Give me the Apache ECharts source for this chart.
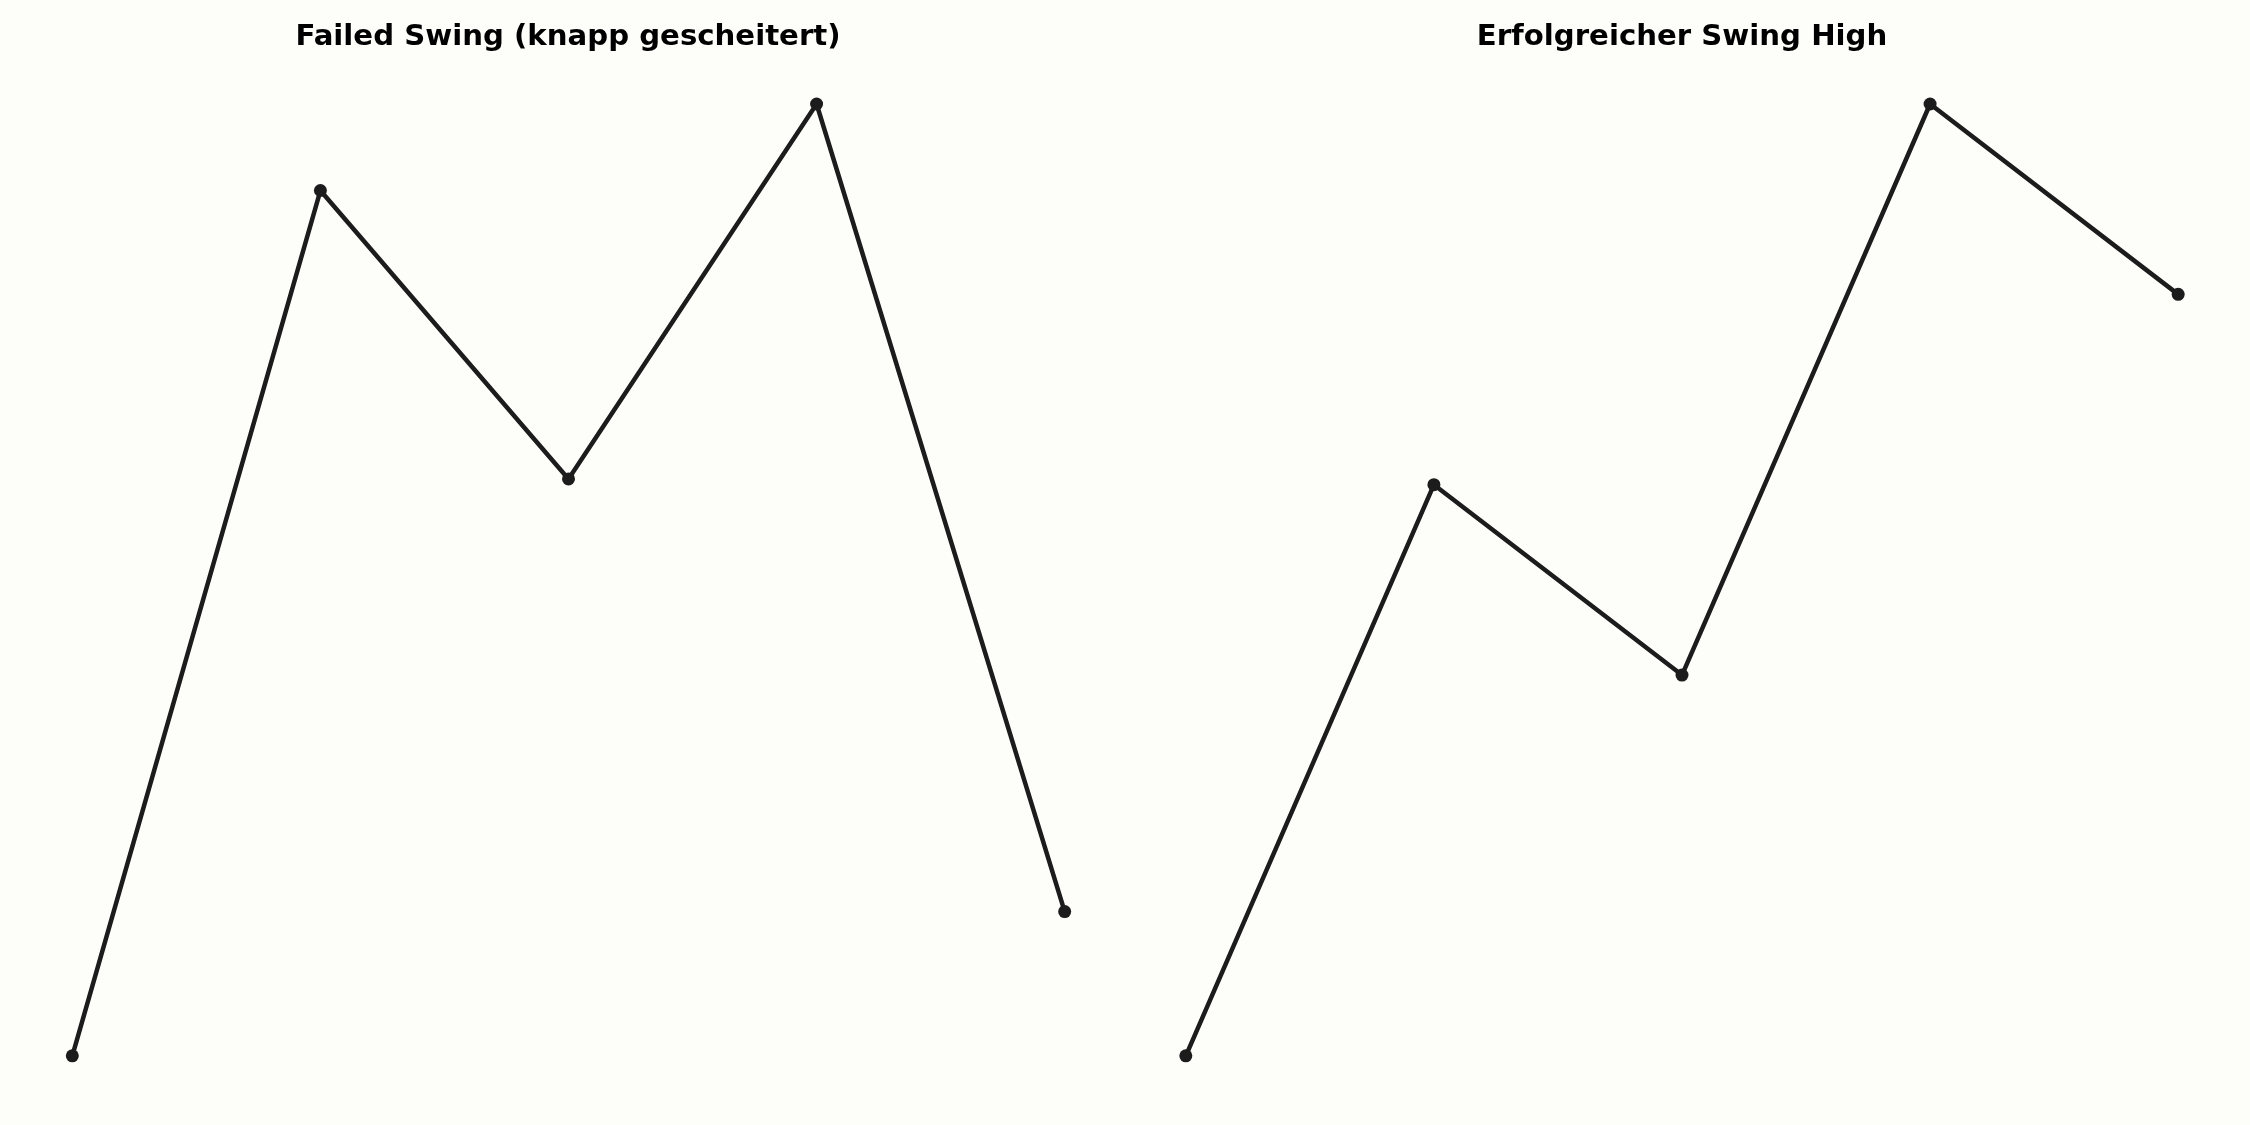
<!DOCTYPE html>
<html>
<head>
<meta charset="utf-8">
<script src="https://cdn.jsdelivr.net/npm/echarts@6/dist/echarts.min.js"></script>
<style>
html,body{margin:0;padding:0;background:#fdfdf9;}
#chart{width:2250px;height:1125px;}
</style>
</head>
<body>
<div id="chart"></div>
<script>
const titles = ["Failed Swing (knapp gescheitert)", "Erfolgreicher Swing High"];
const steps = [0, 1, 2, 3, 4];
const failedSwing = [0, 3, 2, 3.3, 0.5];
const successfulSwing = [0, 3, 2, 5, 4];

const lineColor = '#1c1c1c';
function pairs(ys){ return steps.map((x,i)=>[x, ys[i]]); }
function yBounds(ys){
  const mn = Math.min(...ys), mx = Math.max(...ys), pad = (mx-mn)*0.05;
  return {min: mn-pad, max: mx+pad};
}
const b1 = yBounds(failedSwing), b2 = yBounds(successfulSwing);

const chart = echarts.init(document.getElementById('chart'), null, {renderer:'canvas'});
chart.setOption({
  backgroundColor: '#fdfdf9',
  animation: false,
  title: [
    {text: titles[0], left: 563, top: 17.5, textAlign: 'center',
     textStyle:{fontFamily:'DejaVu Sans', fontWeight:'bold', fontSize:29.2, color:'#000'}},
    {text: titles[1], left: 1677, top: 17.5, textAlign: 'center',
     textStyle:{fontFamily:'DejaVu Sans', fontWeight:'bold', fontSize:29.2, color:'#000'}}
  ],
  grid: [
    {left: 22.7, top: 56.4, width: 1091.6, height: 1047},
    {left: 1136.2, top: 56.4, width: 1091.6, height: 1047}
  ],
  xAxis: [
    {type:'value', gridIndex:0, min:-0.2, max:4.2, show:false},
    {type:'value', gridIndex:1, min:-0.2, max:4.2, show:false}
  ],
  yAxis: [
    {type:'value', gridIndex:0, min:b1.min, max:b1.max, show:false},
    {type:'value', gridIndex:1, min:b2.min, max:b2.max, show:false}
  ],
  series: [
    {type:'line', xAxisIndex:0, yAxisIndex:0, data:pairs(failedSwing),
     symbol:'circle', symbolSize:13, showSymbol:true,
     lineStyle:{color:lineColor, width:4.5}, itemStyle:{color:lineColor}},
    {type:'line', xAxisIndex:1, yAxisIndex:1, data:pairs(successfulSwing),
     symbol:'circle', symbolSize:13, showSymbol:true,
     lineStyle:{color:lineColor, width:4.5}, itemStyle:{color:lineColor}}
  ]
});
</script>
</body>
</html>
